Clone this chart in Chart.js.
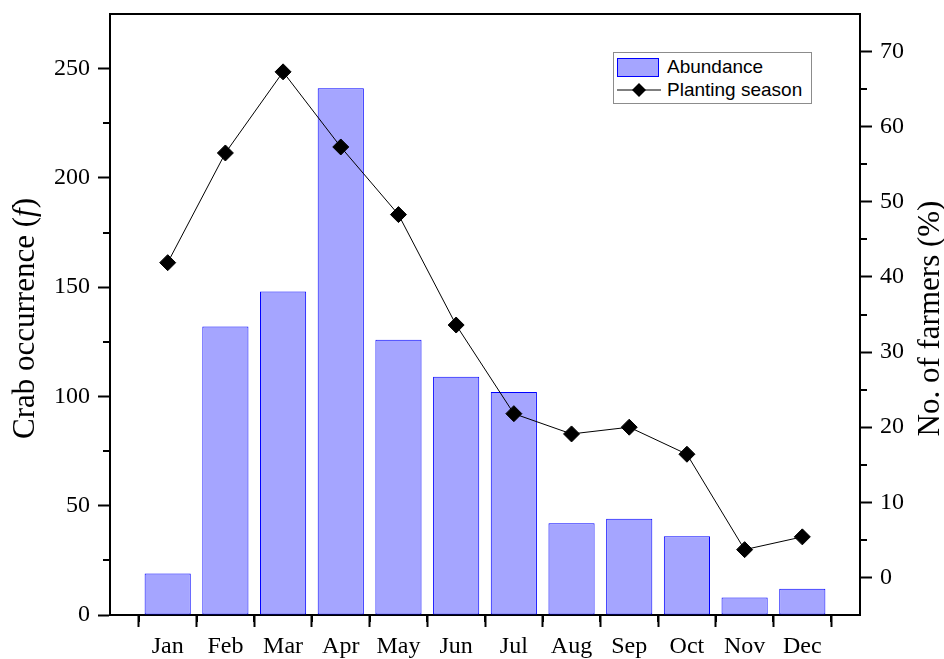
<!DOCTYPE html>
<html lang="en">
<head>
<meta charset="UTF-8">
<title>Crab occurrence and planting season</title>
<style>
  body { margin: 0; background: #fff; }
  #wrap { position: relative; width: 944px; height: 659px; }
  #legend {
    position: absolute; left: 613px; top: 52px; width: 197px; height: 50px;
    border: 1px solid #8c8c8c; background: #fff;
    font-family: 'Liberation Sans', Arial, sans-serif; font-size: 19px; color: #000;
  }
  .row { position: absolute; left: 3px; height: 22px; display: flex; align-items: center; white-space: nowrap; }
  .swatch { width: 42px; height: 19px; box-sizing: border-box; background: #a5a5ff; border: 1px solid #0000ff; margin-right: 8px; }
  .row svg { margin-right: 6px; }
</style>
</head>
<body>
<div id="wrap">
  <canvas id="mychart"></canvas>
  <div id="legend">
    <div class="row" style="top:3px"><div class="swatch"></div>Abundance</div>
    <div class="row" style="top:26px">
      <svg width="44" height="22"><line x1="0" y1="11" x2="44" y2="11" stroke="#000" stroke-width="1"/><polygon points="22,4 29,11 22,18 15,11" fill="#000"/></svg>Planting season
    </div>
  </div>
</div>
<script src="https://cdn.jsdelivr.net/npm/chart.js"></script>
<script>
  const months = ['Jan', 'Feb', 'Mar', 'Apr', 'May', 'Jun', 'Jul', 'Aug', 'Sep', 'Oct', 'Nov', 'Dec'];
  const abundance = [19, 132, 148, 241, 126, 109, 102, 42, 44, 36, 8, 12];
  const planting = [41.9, 56.5, 67.3, 57.3, 48.3, 33.6, 21.8, 19.1, 20.0, 16.4, 3.7, 5.4];
  const leftTicks = [0, 50, 100, 150, 200, 250];
  const rightTicks = [0, 10, 20, 30, 40, 50, 60, 70];

  // empty slot at each end so the months sit on 1..12 of a 0..13 axis
  const labels = [''].concat(months, ['']);
  const pad = arr => [null].concat(arr, [null]);

  const serif = "'Liberation Serif', 'Times New Roman', serif";
  Chart.defaults.font.family = serif;
  Chart.defaults.color = '#000';

  function mids(ticks) {
    const out = [];
    for (let i = 0; i < ticks.length - 1; i++) out.push((ticks[i] + ticks[i + 1]) / 2);
    return out;
  }

  function drawTitle(ctx, x, y, parts) {
    ctx.save();
    ctx.translate(x, y);
    ctx.rotate(-Math.PI / 2);
    ctx.textBaseline = 'middle';
    ctx.textAlign = 'left';
    let total = 0;
    parts.forEach(p => { ctx.font = p[1]; total += ctx.measureText(p[0]).width; });
    let cx = -total / 2;
    parts.forEach(p => {
      ctx.font = p[1];
      ctx.fillText(p[0], cx, 0);
      cx += ctx.measureText(p[0]).width;
    });
    ctx.restore();
  }

  const framePlugin = {
    id: 'frame',
    afterDraw(chart) {
      const ctx = chart.ctx, a = chart.chartArea;
      const sx = chart.scales.x, sy = chart.scales.y, sy1 = chart.scales.y1;
      ctx.save();
      ctx.strokeStyle = '#000';
      ctx.lineWidth = 2;
      ctx.beginPath();
      ctx.moveTo(a.left - 1, a.top);
      ctx.lineTo(a.right + 1, a.top);
      // minor ticks
      for (let i = 0; i < labels.length - 1; i++) {
        const px = Math.round(sx.getPixelForValue(i + 0.5));
        ctx.moveTo(px, a.bottom);
        ctx.lineTo(px, a.bottom + 7);
      }
      mids(leftTicks).forEach(v => {
        const py = Math.round(sy.getPixelForValue(v));
        ctx.moveTo(a.left, py);
        ctx.lineTo(a.left - 7, py);
      });
      mids(rightTicks).forEach(v => {
        const py = Math.round(sy1.getPixelForValue(v));
        ctx.moveTo(a.right, py);
        ctx.lineTo(a.right + 7, py);
      });
      ctx.stroke();
      ctx.fillStyle = '#000';
      const cy = (a.top + a.bottom) / 2 + 4;
      drawTitle(ctx, 26, cy, [['Crab occurrence (', '31px ' + serif], ['f', 'italic 31px ' + serif], [')', '31px ' + serif]]);
      drawTitle(ctx, 931, cy, [['No. of farmers (%)', '31px ' + serif]]);
      ctx.restore();
    }
  };

  const tickGrid = { display: true, drawOnChartArea: false, drawTicks: true, tickLength: 12, tickWidth: 2, tickColor: '#000' };

  new Chart(document.getElementById('mychart').getContext('2d'), {
    data: {
      labels: labels,
      datasets: [
        {
          type: 'line',
          label: 'Planting season',
          data: pad(planting),
          yAxisID: 'y1',
          borderColor: '#000',
          borderWidth: 1,
          pointStyle: 'rectRot',
          pointRadius: 8,
          pointBackgroundColor: '#000',
          pointBorderColor: '#000',
          tension: 0,
          order: 0
        },
        {
          type: 'bar',
          label: 'Abundance',
          data: pad(abundance),
          yAxisID: 'y',
          backgroundColor: '#a5a5ff',
          borderColor: '#0000ff',
          borderWidth: 1,
          borderSkipped: false,
          barPercentage: 0.8,
          categoryPercentage: 1.0,
          order: 1
        }
      ]
    },
    options: {
      responsive: true,
      maintainAspectRatio: false,
      animation: false,
      layout: { padding: { top: 14, left: 0, right: 0, bottom: 0 } },
      plugins: { legend: { display: false }, tooltip: { enabled: false } },
      scales: {
        x: {
          offset: false,
          grid: tickGrid,
          border: { display: true, color: '#000', width: 2 },
          ticks: { font: { size: 24 }, padding: 5, maxRotation: 0, autoSkip: false },
          afterFit(s) { s.height = 44; s.paddingLeft = 0; s.paddingRight = 0; }
        },
        y: {
          position: 'left',
          min: 0, max: 275,
          grid: tickGrid,
          border: { display: true, color: '#000', width: 2 },
          ticks: { font: { size: 24 }, padding: 8 },
          afterBuildTicks(s) { s.ticks = leftTicks.map(v => ({ value: v })); },
          afterFit(s) { s.width = 110; s.paddingTop = 0; s.paddingBottom = 0; }
        },
        y1: {
          position: 'right',
          min: -5, max: 75,
          grid: tickGrid,
          border: { display: true, color: '#000', width: 2 },
          ticks: { font: { size: 24 }, padding: 8 },
          afterBuildTicks(s) { s.ticks = rightTicks.map(v => ({ value: v })); },
          afterFit(s) { s.width = 84; s.paddingTop = 0; s.paddingBottom = 0; }
        }
      }
    },
    plugins: [framePlugin]
  });
</script>
</body>
</html>
